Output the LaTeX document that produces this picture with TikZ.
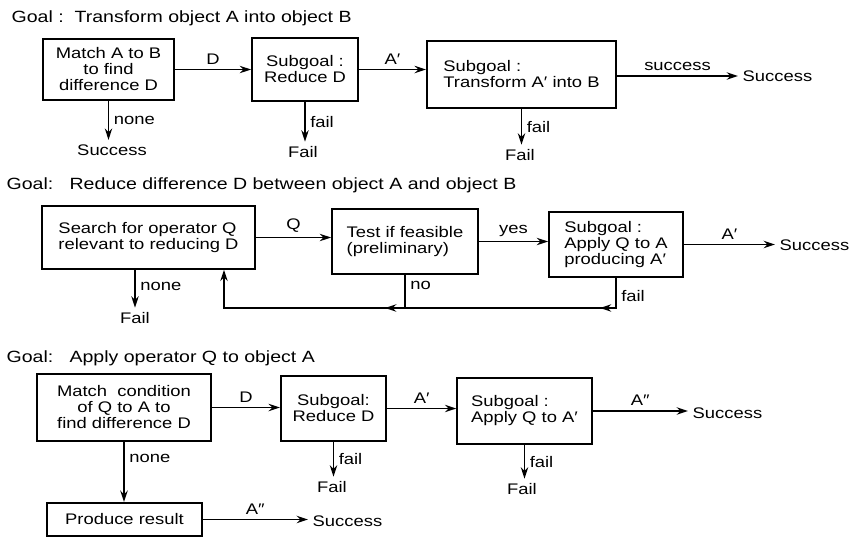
\documentclass[tikz,border=0pt]{standalone}
\usepackage{fontspec}
\setmainfont{Liberation Sans}[FakeStretch=1.2]
\usetikzlibrary{arrows.meta,decorations.markings}

\begin{document}
\begin{tikzpicture}[x=0.75pt, y=-0.75pt, >={Stealth[length=8.5pt,width=5.5pt]},
  every node/.style={font=\fontsize{11.5}{12}\selectfont},
  box/.style={draw, line width=1.3pt, inner sep=0pt, align=center},
  flow/.style={->, line width=1.3pt},
  lbl/.style={font=\fontsize{11.5}{12}\selectfont},
  goal/.style={anchor=west, font=\fontsize{12.2}{13}\selectfont}]
  \useasboundingbox (0,0) rectangle (850,537);

  % Goal 1: transform
  \node[goal] (goal1) at (7,18) {Goal :\ \ Transform object A into object B};
  \node[box, minimum width=98pt, minimum height=46pt] (match1) at (108.5,69.5) {Match A to B\\to find\\difference D};
  \node[box, minimum width=79.5pt, minimum height=47pt] (reduce1) at (305,69.5) {Subgoal :\\Reduce D};
  \node[box, align=left, minimum width=142pt, minimum height=50pt] (transform1) at (521.5,74.5) {Subgoal :\\Transform A′ into B};
  \node (succ0) at (112,150) {Success};
  \node (fail1) at (303,152) {Fail};
  \node (fail2) at (520,155) {Fail};
  \node[anchor=west] (succ1) at (738,76) {Success};
  \draw[flow] (match1) -- node[above, lbl] {D} (reduce1);
  \draw[flow] (reduce1) -- node[above, lbl] {A′} (reduce1 -| transform1.west);
  \draw[flow] (transform1.east |- succ1) -- node[above, lbl] {success} (succ1);
  \draw[flow] (match1.south) -- node[right, lbl] {none} (match1.south |- succ0.north);
  \draw[flow] (reduce1.south) -- node[right, lbl] {fail} (reduce1.south |- fail1.north);
  \draw[flow] (transform1.south) -- node[right, lbl] {fail} (transform1.south |- fail2.north);

  % Goal 2: reduce
  \node[goal] (goal2) at (2,185) {Goal:\ \ \ Reduce difference D between object A and object B};
  \node[box, align=left, minimum width=160pt, minimum height=47pt] (search) at (148.5,237.5) {Search for operator Q\\relevant to reducing D};
  \node[box, align=left, minimum width=109.5pt, minimum height=49pt] (test) at (405,241.5) {Test if feasible\\(preliminary)};
  \node[box, align=left, minimum width=100.5pt, minimum height=49pt] (apply) at (616,244.5) {Subgoal :\\Apply Q to A\\producing A′};
  \node[anchor=west] (succ2) at (775,245) {Success};
  \node (fail3) at (135,318) {Fail};
  \coordinate (back) at (224,308);
  \draw[flow] (search) -- node[above, lbl] {Q} (search -| test.west);
  \draw[flow] (test) -- node[above, lbl] {yes} (test -| apply.west);
  \draw[flow] (apply) -- node[above, lbl] {A′} (apply -| succ2.west);
  \draw[flow] (search.south -| fail3) -- node[right, lbl, pos=0.45] {none} (fail3);
  \draw[flow, postaction={decorate}, decoration={markings,
      mark=at position 0.1 with {\arrow{>}},
      mark=at position 0.567 with {\arrow{>}}}]
    (apply.south) |- node[right, lbl, pos=0.3] {fail} (back) -- (search.south -| back);
  \draw[line width=1.3pt] (test.south) -- node[right, lbl, pos=0.33] {no} (test.south |- back);

  % Goal 3: apply
  \node[goal] (goal3) at (2,358) {Goal:\ \ \ Apply operator Q to object A};
  \node[box, minimum width=130.5pt, minimum height=50pt] (match3) at (124,407.5) {Match\ \ condition\\of Q to A to\\find difference D};
  \node[box, minimum width=79pt, minimum height=49pt] (reduce3) at (333.5,408.5) {Subgoal:\\Reduce D};
  \node[box, align=left, minimum width=101pt, minimum height=49.5pt] (apply3) at (524.5,411) {Subgoal :\\Apply Q to A′};
  \node[box, minimum width=116pt, minimum height=25pt] (produce) at (124.5,519.5) {Produce result};
  \node[anchor=west] (succ3) at (688,413) {Success};
  \node (fail4) at (332,487) {Fail};
  \node (fail5) at (522,489) {Fail};
  \node[anchor=west] (succ4) at (308,521) {Success};
  \draw[flow] (match3) -- node[above, lbl] {D} (match3 -| reduce3.west);
  \draw[flow] (reduce3) -- node[above, lbl] {A′} (reduce3 -| apply3.west);
  \draw[flow] (apply3) -- node[above, lbl] {A″} (apply3 -| succ3.west);
  \draw[flow] (reduce3.south) -- node[right, lbl] {fail} (reduce3.south |- fail4.north);
  \draw[flow] (apply3.south) -- node[right, lbl] {fail} (apply3.south |- fail5.north);
  \draw[flow] (match3.south) -- node[right, lbl, pos=0.27] {none} (match3.south |- produce.north);
  \draw[flow] (produce) -- node[above, lbl] {A″} (produce -| succ4.west);

\end{tikzpicture}
\end{document}
